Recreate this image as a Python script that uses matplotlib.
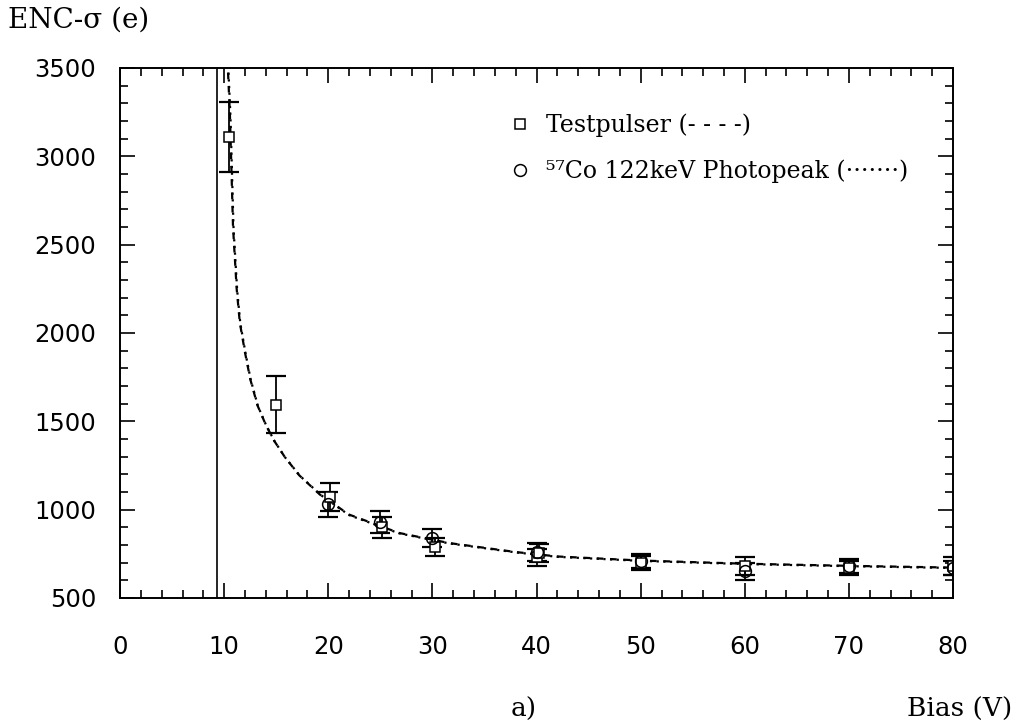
import matplotlib
matplotlib.use("Agg")
import matplotlib.pyplot as plt
from matplotlib.ticker import MultipleLocator

# Testpulser points (squares)
tp_bias = [10.5, 15.0, 20.2, 25.2, 30.2, 40.0, 40.2, 50.0, 60.0, 70.0, 80.0]
tp_enc = [3110, 1595, 1070, 900, 790, 730, 755, 700, 680, 670, 680]
tp_err = [200, 160, 80, 60, 50, 50, 50, 40, 50, 40, 50]

# 57Co photopeak points (circles)
co_bias = [20.0, 25.0, 30.0, 40.0, 50.0, 60.0, 70.0, 80.0]
co_enc = [1030, 930, 840, 760, 710, 650, 680, 670]
co_err = [70, 60, 50, 50, 40, 50, 40, 40]

# fitted curves
fit_tp_x = [10.2, 10.55, 10.85, 11.2, 11.5, 12.0, 12.5, 13.2, 14.0, 14.8, 15.8, 17.2,
            19.2, 22.0, 26.8, 31.6, 38.0, 42.0, 50.0, 60.0, 70.0, 80.0]
fit_tp_y = [3700, 3240, 2600, 2250, 2060, 1890, 1740, 1590, 1480, 1390, 1300, 1195,
            1085, 972, 868, 811, 760, 735, 712, 694, 682, 672]
fit_co_x = [10.25, 10.6, 10.9, 11.25, 11.55, 12.05, 12.55, 13.25, 14.05, 14.85, 15.85, 17.3,
            19.3, 22.0, 26.8, 31.6, 38.0, 42.0, 50.0, 60.0, 70.0, 80.0]
fit_co_y = [3700, 3230, 2590, 2240, 2055, 1885, 1735, 1585, 1475, 1386, 1296, 1190,
            1082, 969, 866, 809, 758, 733, 710, 692, 680, 670]

depletion_v = 9.3

serif = "DejaVu Serif"
sans = "DejaVu Sans"

fig = plt.figure(figsize=(10.19, 7.28), dpi=100)
ax = fig.add_axes([0.1178, 0.1786, 0.8175, 0.728])

ax.axvline(depletion_v, color="black", lw=1.2)

ax.plot(fit_tp_x, fit_tp_y, color="black", lw=1.6, ls=(0, (3, 3)))
ax.plot(fit_co_x, fit_co_y, color="black", lw=1.6, ls=(0, (1, 2)))

ax.errorbar(tp_bias, tp_enc, yerr=tp_err, fmt="none", ecolor="black",
            elinewidth=1.3, capsize=7.5, capthick=1.6)
ax.errorbar(co_bias, co_enc, yerr=co_err, fmt="none", ecolor="black",
            elinewidth=1.3, capsize=7.5, capthick=1.6)
sq, = ax.plot(tp_bias, tp_enc, ls="none", marker="s", ms=6.5, mfc="white",
              mec="black", mew=1.1)
ci, = ax.plot(co_bias, co_enc, ls="none", marker="o", ms=8.5, mfc="none",
              mec="black", mew=1.1)

ax.set_xlim(0, 80)
ax.set_ylim(500, 3500)
ax.xaxis.set_major_locator(MultipleLocator(10))
ax.xaxis.set_minor_locator(MultipleLocator(2))
ax.yaxis.set_major_locator(MultipleLocator(500))
ax.yaxis.set_minor_locator(MultipleLocator(100))
ax.tick_params(which="both", direction="in", top=True, right=True, width=1.2)
ax.tick_params(which="major", length=11)
ax.tick_params(which="minor", length=6)
ax.tick_params(axis="x", which="major", pad=27)
ax.tick_params(axis="y", which="major", pad=17)
for lab in ax.get_xticklabels() + ax.get_yticklabels():
    lab.set_fontfamily(sans)
    lab.set_fontsize(17.5)
for sp in ax.spines.values():
    sp.set_linewidth(1.4)

leg = ax.legend([sq, ci],
                ["Testpulser (- - - -)", "\u2075\u2077Co 122keV Photopeak (\u00b7\u00b7\u00b7\u00b7\u00b7\u00b7\u00b7)"],
                loc="upper left", bbox_to_anchor=(0.455, 0.932), frameon=False,
                prop={"family": serif, "size": 17}, handlelength=1.0,
                handletextpad=0.6, labelspacing=0.95, borderaxespad=0)

fig.text(0.008, 0.972, "ENC-\u03c3 (e)", family=serif, fontsize=20,
         ha="left", va="center")
fig.text(0.514, 0.025, "a)", family=serif, fontsize=19, ha="center", va="center")
fig.text(0.993, 0.025, "Bias (V)", family=serif, fontsize=19, ha="right", va="center")

fig.savefig("out.png", dpi=100)
